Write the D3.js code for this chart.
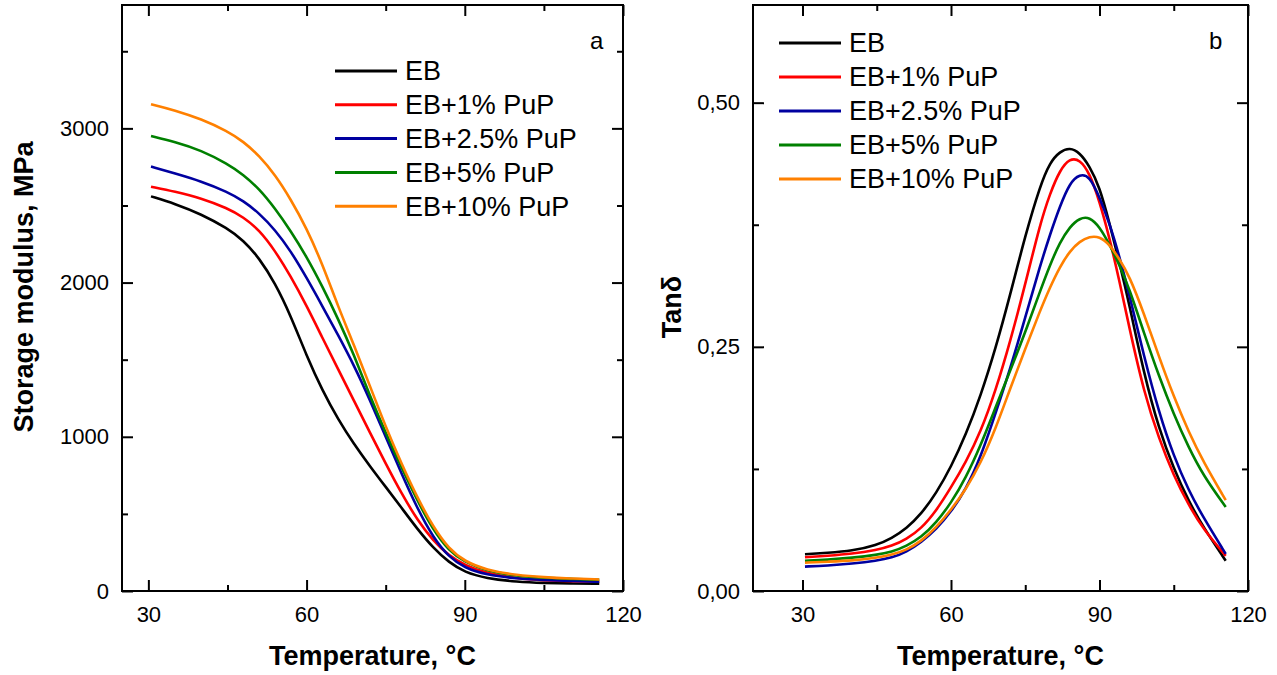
<!DOCTYPE html>
<meta charset="utf-8">

<style>
body { margin: 0; background: #fff; }
svg { display: block; }
.tick text { font: 22px "Liberation Sans", Arial, sans-serif; fill: #000; }
.tick line { stroke: #000; stroke-width: 2px; }
.frame { fill: none; stroke: #000; stroke-width: 2px; }
.title { font: bold 27px "Liberation Sans", Arial, sans-serif; fill: #000; }
.legend text { font: 27px "Liberation Sans", Arial, sans-serif; fill: #000; }
.letter { font: 24px "Liberation Sans", Arial, sans-serif; fill: #000; }
.line { fill: none; stroke-width: 2.6px; stroke-linejoin: round; }
</style>

<svg width="1277" height="675"></svg>
<script src="https://d3js.org/d3.v7.min.js"></script>

<script>
var seriesNames = ["EB", "EB+1% PuP", "EB+2.5% PuP", "EB+5% PuP", "EB+10% PuP"];
var seriesColors = ["#000000", "#ff0000", "#0000a0", "#008000", "#ff8000"];

// panel a: storage modulus, MPa
var tempModulus = [30.5, 35, 40, 45, 48, 51, 54, 57, 60, 63, 66, 69, 72, 75, 78, 81, 84, 87, 90, 94, 100, 105, 110, 115.5];
var modulusEB   = [2559, 2512, 2444, 2352, 2274, 2160, 1998, 1785, 1525, 1300, 1112, 952, 810, 675, 540, 402, 280, 185, 122, 82, 59, 52, 49, 47];
var modulus1    = [2622, 2590, 2548, 2482, 2425, 2342, 2208, 2040, 1850, 1642, 1437, 1233, 1029, 826, 632, 461, 325, 229, 168, 114, 81, 70, 64, 60];
var modulus25   = [2752, 2708, 2657, 2588, 2530, 2450, 2343, 2205, 2032, 1847, 1658, 1463, 1240, 1000, 762, 535, 347, 220, 150, 105, 80, 71, 65, 60];
var modulus5    = [2950, 2913, 2858, 2770, 2700, 2608, 2482, 2334, 2168, 1975, 1763, 1530, 1266, 1026, 800, 586, 396, 260, 187, 132, 96, 85, 78, 73];
var modulus10   = [3157, 3118, 3061, 2982, 2915, 2823, 2700, 2540, 2352, 2120, 1842, 1595, 1330, 1065, 825, 605, 415, 272, 192, 137, 101, 89, 81, 75];

// panel b: tan delta
var tempTan = [30.5, 35, 40, 45, 48, 51, 54, 57, 60, 63, 66, 69, 72, 75, 78, 80, 82, 84, 86, 88, 90, 92, 94, 96, 99, 102, 105, 108, 111, 115.5];
var tanEB = [0.0376, 0.039, 0.041, 0.047, 0.054, 0.064, 0.079, 0.100, 0.127, 0.160, 0.200, 0.248, 0.304, 0.364, 0.415, 0.439, 0.450, 0.454, 0.449, 0.435, 0.414, 0.377, 0.337, 0.294, 0.222, 0.166, 0.125, 0.092, 0.065, 0.031];
var tan1  = [0.0345, 0.036, 0.038, 0.042, 0.046, 0.053, 0.064, 0.082, 0.106, 0.132, 0.163, 0.205, 0.256, 0.314, 0.376, 0.407, 0.431, 0.443, 0.442, 0.428, 0.399, 0.362, 0.318, 0.270, 0.203, 0.156, 0.118, 0.088, 0.063, 0.036];
var tan25 = [0.025, 0.026, 0.028, 0.031, 0.034, 0.040, 0.050, 0.063, 0.081, 0.104, 0.137, 0.182, 0.228, 0.280, 0.333, 0.365, 0.394, 0.418, 0.427, 0.425, 0.403, 0.377, 0.343, 0.304, 0.240, 0.183, 0.138, 0.103, 0.075, 0.038];
var tan5  = [0.031, 0.032, 0.034, 0.037, 0.040, 0.046, 0.055, 0.070, 0.090, 0.116, 0.149, 0.188, 0.226, 0.265, 0.307, 0.334, 0.357, 0.373, 0.382, 0.383, 0.373, 0.355, 0.334, 0.310, 0.264, 0.220, 0.181, 0.147, 0.118, 0.086];
var tan10 = [0.029, 0.030, 0.031, 0.034, 0.037, 0.042, 0.051, 0.065, 0.083, 0.104, 0.131, 0.166, 0.208, 0.248, 0.287, 0.311, 0.332, 0.348, 0.358, 0.363, 0.363, 0.355, 0.340, 0.323, 0.284, 0.240, 0.199, 0.163, 0.132, 0.093];

var xMajor = [30, 60, 90, 120],
    xMinor = [45, 75, 105];

var svg = d3.select("svg");

var panels = [
    {
        letter: "a", xRange: [122, 623], xDomain: [25, 120], yDomain: [0, 3800],
        yMajor: [0, 1000, 2000, 3000], yMinor: [500, 1500, 2500, 3500],
        yFormat: d3.format("d"), yTitle: "Storage modulus, MPa", yTitlePos: [33, 287],
        temps: tempModulus, values: [modulusEB, modulus1, modulus25, modulus5, modulus10],
        legend: {x: 335, y: 71, step: 33.8}, letterPos: [590, 49]
    },
    {
        letter: "b", xRange: [753, 1248], xDomain: [20, 120], yDomain: [0, 0.6],
        yMajor: [0, 0.25, 0.5], yMinor: [0.125, 0.375],
        yFormat: function(d) { return d3.format(".2f")(d).replace(".", ","); },
        yTitle: "Tanδ", yTitlePos: [681, 307],
        temps: tempTan, values: [tanEB, tan1, tan25, tan5, tan10],
        legend: {x: 779, y: 43, step: 34}, letterPos: [1209, 49]
    }
];

var plotTop = 5, plotBottom = 591;

panels.forEach(function(p) {
    var x = d3.scaleLinear().domain(p.xDomain).range(p.xRange),
        y = d3.scaleLinear().domain(p.yDomain).range([plotBottom, plotTop]);
    var g = svg.append("g");

    // ticks, all pointing inward, mirrored on top and right
    g.append("g").attr("transform", "translate(0," + plotBottom + ")")
        .call(d3.axisBottom(x).tickValues(xMajor).tickSize(-11).tickPadding(15).tickFormat(d3.format("d")));
    g.append("g").attr("transform", "translate(0," + plotBottom + ")")
        .call(d3.axisBottom(x).tickValues(xMinor).tickSize(-6).tickFormat(""));
    g.append("g").attr("transform", "translate(0," + plotTop + ")")
        .call(d3.axisTop(x).tickValues(xMajor).tickSize(-11).tickFormat(""));
    g.append("g").attr("transform", "translate(0," + plotTop + ")")
        .call(d3.axisTop(x).tickValues(xMinor).tickSize(-6).tickFormat(""));
    g.append("g").attr("transform", "translate(" + p.xRange[0] + ",0)")
        .call(d3.axisLeft(y).tickValues(p.yMajor).tickSize(-11).tickPadding(13).tickFormat(p.yFormat));
    g.append("g").attr("transform", "translate(" + p.xRange[0] + ",0)")
        .call(d3.axisLeft(y).tickValues(p.yMinor).tickSize(-6).tickFormat(""));
    g.append("g").attr("transform", "translate(" + p.xRange[1] + ",0)")
        .call(d3.axisRight(y).tickValues(p.yMajor).tickSize(-11).tickFormat(""));
    g.append("g").attr("transform", "translate(" + p.xRange[1] + ",0)")
        .call(d3.axisRight(y).tickValues(p.yMinor).tickSize(-6).tickFormat(""));
    g.selectAll(".domain").remove();

    g.append("rect")
        .attr("class", "frame")
        .attr("x", p.xRange[0])
        .attr("y", plotTop)
        .attr("width", p.xRange[1] - p.xRange[0])
        .attr("height", plotBottom - plotTop);

    // curves (B-spline smooths the hand-read points)
    var line = d3.line()
        .x(function(d) { return x(d[0]); })
        .y(function(d) { return y(d[1]); })
        .curve(d3.curveBasis);

    p.values.forEach(function(vals, i) {
        g.append("path")
            .attr("class", "line")
            .attr("d", line(p.temps.map(function(t, j) { return [t, vals[j]]; })))
            .style("stroke", seriesColors[i]);
    });

    // legend
    var leg = g.append("g").attr("class", "legend");
    seriesNames.forEach(function(name, i) {
        var ly = p.legend.y + i * p.legend.step;
        leg.append("line")
            .attr("x1", p.legend.x).attr("x2", p.legend.x + 62)
            .attr("y1", ly).attr("y2", ly)
            .style("stroke", seriesColors[i])
            .style("stroke-width", 3);
        leg.append("text")
            .attr("x", p.legend.x + 70)
            .attr("y", ly)
            .attr("dy", "0.35em")
            .text(name);
    });

    g.append("text")
        .attr("class", "letter")
        .attr("x", p.letterPos[0])
        .attr("y", p.letterPos[1])
        .text(p.letter);

    g.append("text")
        .attr("class", "title")
        .attr("text-anchor", "middle")
        .attr("x", (p.xRange[0] + p.xRange[1]) / 2)
        .attr("y", 665)
        .text("Temperature, °C");

    g.append("text")
        .attr("class", "title")
        .attr("text-anchor", "middle")
        .attr("transform", "translate(" + p.yTitlePos[0] + "," + p.yTitlePos[1] + ") rotate(-90)")
        .text(p.yTitle);
});
</script>
